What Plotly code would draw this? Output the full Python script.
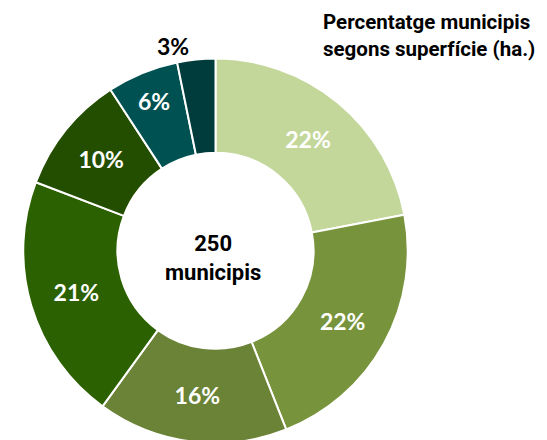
import plotly.graph_objects as go

# municipis per tram de superfície (total 250)
trams = ["Tram 1", "Tram 2", "Tram 3", "Tram 4", "Tram 5", "Tram 6", "Tram 7"]
municipis = [55, 55, 40, 52, 25, 15, 8]
colors = ["#C4D79B", "#77933C", "#6B8337", "#2B6100", "#234E00", "#005252", "#003C3C"]
text_pos = ["inside"] * 6 + ["outside"]

W, H = 547, 440
cx, cy, r = 207.5, 245, 194

fig = go.Figure(go.Pie(
    labels=trams,
    values=municipis,
    sort=False,
    direction="clockwise",
    rotation=0,
    hole=0.51,
    marker={"colors": colors, "line": {"color": "#FFFFFF", "width": 2}},
    texttemplate="<b>%{percent:.0%}</b>",
    textposition=text_pos,
    insidetextorientation="horizontal",
    insidetextfont={"family": "Lato, sans-serif", "size": 23, "color": "#FFFFFF"},
    outsidetextfont={"family": "Lato, sans-serif", "size": 23, "color": "#000000"},
    domain={"x": [(cx - r) / W, (cx + r) / W], "y": [1 - (cy + r) / H, 1 - (cy - r) / H]},
    showlegend=False,
    hoverinfo="label+value+percent",
))

fig.add_annotation(
    text="<b>Percentatge municipis<br>segons superfície (ha.)</b>",
    x=313 / W, y=1, xref="paper", yref="paper",
    xanchor="left", yanchor="top", align="left", showarrow=False,
    font={"family": "Roboto, sans-serif", "size": 20.5, "color": "#000000"},
)
fig.add_annotation(
    text="<b>250<br>municipis</b>",
    x=205 / W, y=1 - 252 / H, xref="paper", yref="paper",
    xanchor="center", yanchor="middle", align="center", showarrow=False,
    font={"family": "Roboto, sans-serif", "size": 22, "color": "#000000"},
)

fig.update_layout(
    width=W,
    height=H,
    margin={"l": 0, "r": 0, "t": 0, "b": 0},
    paper_bgcolor="#FFFFFF",
    plot_bgcolor="#FFFFFF",
)

fig.write_html("out.html")
